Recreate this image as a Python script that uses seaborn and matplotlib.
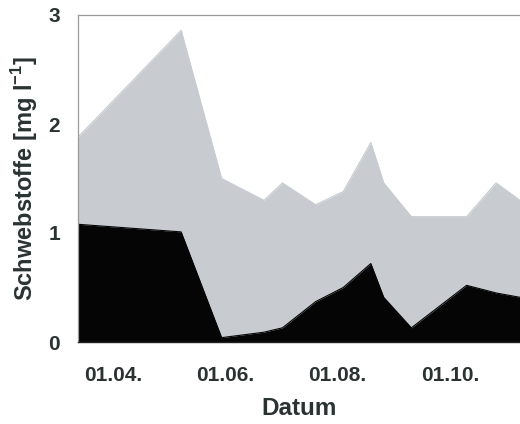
import pandas as pd
import seaborn as sns
import matplotlib.pyplot as plt
import matplotlib.dates as mdates

# sampling dates and suspended solids (mg/l)
dates = ['2001-03-13', '2001-05-08', '2001-05-30', '2001-06-22', '2001-07-02',
         '2001-07-20', '2001-08-04', '2001-08-19', '2001-08-26', '2001-09-10',
         '2001-10-10', '2001-10-26', '2001-11-08']
total = [1.88, 2.86, 1.50, 1.30, 1.46, 1.26, 1.38, 1.83, 1.46, 1.15, 1.15, 1.46, 1.30]
lower = [1.08, 1.01, 0.04, 0.09, 0.13, 0.37, 0.50, 0.72, 0.41, 0.13, 0.52, 0.45, 0.41]
tick_dates = ['2001-04-01', '2001-06-01', '2001-08-01', '2001-10-01']

data = pd.DataFrame({'datum': pd.to_datetime(dates), 'total': total, 'lower': lower})

sns.set_theme(style="white")
plt.rcParams['font.family'] = ['Liberation Sans', 'DejaVu Sans']
plt.rcParams['mathtext.fontset'] = 'custom'
plt.rcParams['mathtext.rm'] = 'Liberation Sans:bold'
plt.rcParams['mathtext.bf'] = 'Liberation Sans:bold'

text_color = '#2b3232'
gray_fill = '#c8ccd1'

fig = plt.figure(figsize=(5.2, 4.24), dpi=100)
ax = fig.add_axes([78 / 520, 82 / 424, 442 / 520, 327 / 424])

ax.fill_between(data['datum'], 0, data['total'], color=gray_fill, linewidth=0)
ax.fill_between(data['datum'], 0, data['lower'], color='#050505', linewidth=0)
sns.lineplot(x='datum', y='total', data=data, color=gray_fill, linewidth=0.8, ax=ax)
sns.lineplot(x='datum', y='lower', data=data, color='#050505', linewidth=0.8, ax=ax)

ax.set_xlim(data['datum'].iloc[0], data['datum'].iloc[-1])
ax.set_ylim(0, 3)
ax.set_yticks([0, 1, 2, 3])
ax.set_xticks(pd.to_datetime(tick_dates))
ax.xaxis.set_major_formatter(mdates.DateFormatter('%d.%m.'))

ax.tick_params(axis='both', which='major', direction='out', length=3, width=0.8,
               color='#888888', labelsize=15, labelcolor=text_color)
ax.tick_params(axis='x', pad=14)
ax.tick_params(axis='y', pad=10)
for lab in ax.get_xticklabels() + ax.get_yticklabels():
    lab.set_fontweight('bold')

ax.spines['right'].set_visible(False)
for side in ['top', 'left']:
    ax.spines[side].set_color('#9a9a9a')
    ax.spines[side].set_linewidth(0.9)
ax.spines['bottom'].set_color('#222222')
ax.spines['bottom'].set_linewidth(1.0)

ax.set_xlabel('Datum', fontsize=17.5, fontweight='bold', color=text_color, labelpad=9)
ax.set_ylabel('Schwebstoffe [mg l$^{\\mathbf{-1}}$]', fontsize=17, fontweight='bold',
              color=text_color, labelpad=6)

fig.savefig('out.png', dpi=100)
